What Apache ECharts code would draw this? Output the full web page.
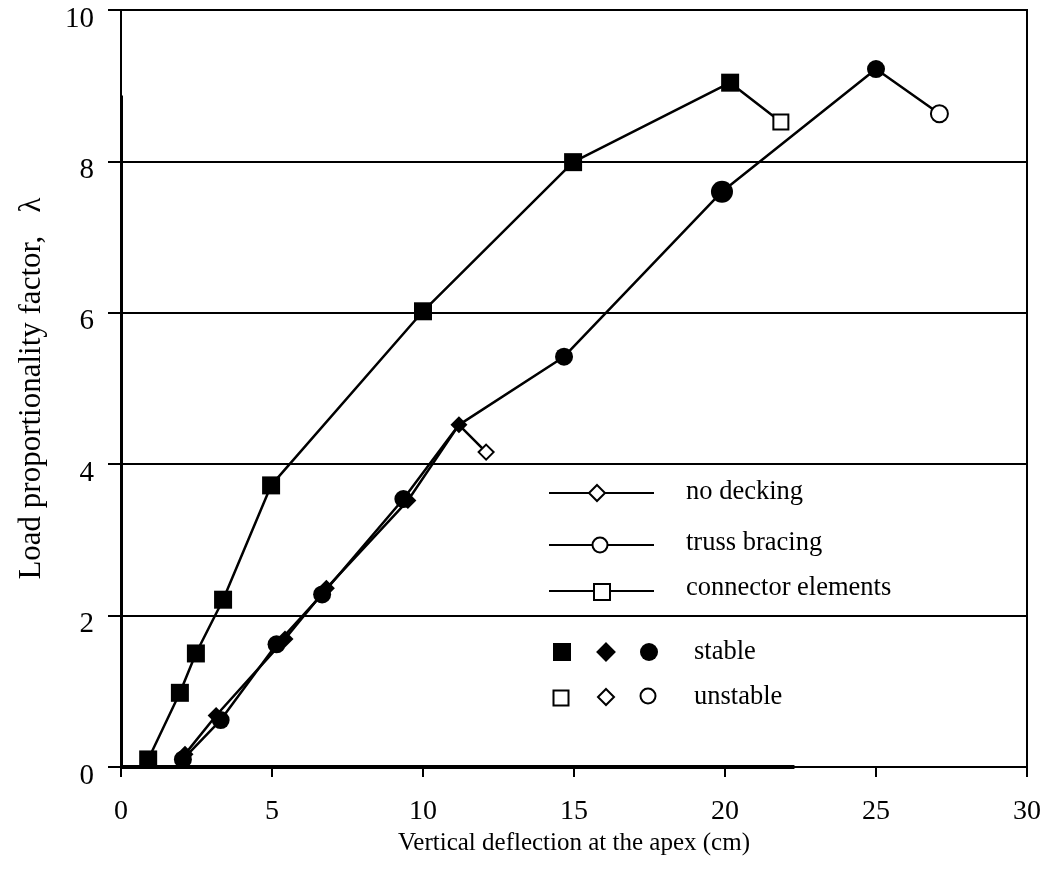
<!DOCTYPE html>
<html>
<head>
<meta charset="utf-8">
<style>
  html, body { margin: 0; padding: 0; background: #fff; }
  #chart { width: 1052px; height: 892px; }
</style>
<script src="https://cdn.jsdelivr.net/npm/echarts@6/dist/echarts.min.js"></script>
</head>
<body>
<div id="chart"></div>
<script>
// Load proportionality factor vs. vertical apex deflection (cm)
const xTicks = [0, 5, 10, 15, 20, 25, 30];
const yTicks = [0, 2, 4, 6, 8, 10];

// connector elements (squares)
const connectorStable = [[0.9, 0.1], [1.95, 0.98], [2.48, 1.5], [3.38, 2.21], [4.97, 3.72], [10.0, 6.02], [14.97, 7.99], [20.17, 9.04]];
const connectorUnstable = [21.85, 8.52];

// truss bracing (circles); the point at 11.19 cm lies under the no-decking diamond
const trussStable = [[2.05, 0.1], [3.3, 0.62], [5.15, 1.62], [6.66, 2.28], [9.35, 3.54], [11.19, 4.52], [14.67, 5.42], [19.9, 7.6], [25.0, 9.22]];
const trussUnstable = [27.1, 8.63];

// no decking (diamonds)
const deckStable = [[2.12, 0.17], [3.15, 0.68], [5.43, 1.69], [6.8, 2.36], [9.5, 3.52], [11.19, 4.52]];
const deckUnstable = [12.09, 4.16];

const FONT = '"Liberation Serif", "Times New Roman", serif';

function buildData(stable, unstable, hollowSize) {
  const pts = stable.map(p => ({ value: p }));
  pts.push({
    value: unstable,
    symbolSize: hollowSize,
    itemStyle: { color: '#fff', borderColor: '#000', borderWidth: 2 }
  });
  return pts;
}

function lineSeries(name, symbol, size, data, z) {
  return {
    name: name,
    type: 'line',
    symbol: symbol,
    symbolSize: size,
    showAllSymbol: true,
    data: data,
    lineStyle: { color: '#000', width: 2.5 },
    itemStyle: { color: '#000', borderWidth: 0 },
    z: z,
    animation: false
  };
}

const trussData = buildData(trussStable, trussUnstable, 17);
trussData[5].symbol = 'none';   // shared point, drawn as the diamond
trussData[7].symbolSize = 22;   // the larger marker at about 20 cm

const chart = echarts.init(document.getElementById('chart'), null, { renderer: 'canvas' });

// legend glyphs
const legend = [];
function hLine(y) {
  legend.push({ type: 'line', shape: { x1: 549, y1: y, x2: 654, y2: y }, style: { stroke: '#000', lineWidth: 2 }, z: 10 });
}
function label(x, y, t) {
  legend.push({ type: 'text', x: x, y: y, style: { text: t, font: '26.5px ' + FONT, fill: '#000', textVerticalAlign: 'middle' }, z: 10 });
}
function diamond(cx, cy, r, filled) {
  legend.push({ type: 'polygon', shape: { points: [[cx, cy - r], [cx + r, cy], [cx, cy + r], [cx - r, cy]] },
    style: { fill: filled ? '#000' : '#fff', stroke: '#000', lineWidth: 2 }, z: 11 });
}
function square(cx, cy, s, filled) {
  legend.push({ type: 'rect', shape: { x: cx - s / 2, y: cy - s / 2, width: s, height: s },
    style: { fill: filled ? '#000' : '#fff', stroke: '#000', lineWidth: filled ? 0 : 2 }, z: 11 });
}
function circle(cx, cy, r, filled) {
  legend.push({ type: 'circle', shape: { cx: cx, cy: cy, r: r },
    style: { fill: filled ? '#000' : '#fff', stroke: '#000', lineWidth: filled ? 0 : 2 }, z: 11 });
}

hLine(493); diamond(597, 493, 8, false); label(686, 492, 'no decking');
hLine(545); circle(600, 545, 7.5, false); label(686, 543, 'truss bracing');
hLine(591); square(602, 592, 16, false); label(686, 588, 'connector elements');
square(562, 652, 18, true); diamond(606, 652, 8.5, true); circle(649, 652, 9, true); label(694, 652, 'stable');
square(561, 698, 15, false); diamond(606, 697, 8, false); circle(648, 696, 7.5, false); label(694, 697, 'unstable');

const option = {
  backgroundColor: '#fff',
  animation: false,
  grid: {
    left: 121, right: 25, top: 10, bottom: 125,
    outerBoundsMode: 'none', containLabel: false,
    show: true, borderColor: '#000', borderWidth: 2, backgroundColor: 'transparent'
  },
  xAxis: {
    type: 'value',
    min: xTicks[0], max: xTicks[xTicks.length - 1], interval: 5,
    name: 'Vertical deflection at the apex (cm)',
    nameLocation: 'middle', nameGap: 62,
    nameTextStyle: { fontFamily: FONT, fontSize: 25, color: '#000' },
    axisLine: { show: true, lineStyle: { color: '#000', width: 2 } },
    axisTick: { show: true, inside: false, length: 10, lineStyle: { color: '#000', width: 2 } },
    axisLabel: { margin: 31, fontFamily: FONT, fontSize: 28, color: '#000',
      formatter: v => xTicks.includes(v) ? String(v) : '' },
    splitLine: { show: false }
  },
  yAxis: {
    type: 'value',
    min: yTicks[0], max: yTicks[yTicks.length - 1], interval: 2,
    name: 'Load proportionality factor,   λ',
    nameLocation: 'middle', nameGap: 74,
    nameTextStyle: { fontFamily: FONT, fontSize: 31, color: '#000' },
    axisLine: { show: true, lineStyle: { color: '#000', width: 2 } },
    axisTick: { show: true, inside: false, length: 13, lineStyle: { color: '#000', width: 2 } },
    axisLabel: { margin: 27, fontFamily: FONT, fontSize: 29, color: '#000',
      verticalAlign: 'top', lineHeight: 18,
      formatter: v => yTicks.includes(v) ? String(v) : '' },
    splitLine: { show: true, lineStyle: { color: '#000', width: 2 } }
  },
  graphic: legend,
  series: [
    Object.assign(lineSeries('connector elements', 'rect', 18, buildData(connectorStable, connectorUnstable, 15), 3), {
      markLine: {
        silent: true, symbol: 'none', label: { show: false }, animation: false,
        lineStyle: { color: '#000', type: 'solid' },
        data: [
          [{ coord: [0, 0], lineStyle: { width: 4, color: '#000', type: 'solid' } }, { coord: [22.3, 0] }],
          [{ coord: [0, 0], lineStyle: { width: 3, color: '#000', type: 'solid' } }, { coord: [0, 8.87] }]
        ]
      }
    }),
    lineSeries('truss bracing', 'circle', 18, trussData, 3),
    lineSeries('no decking', 'diamond', 17, buildData(deckStable, deckUnstable, 15), 4)
  ]
};

chart.setOption(option);
</script>
</body>
</html>
